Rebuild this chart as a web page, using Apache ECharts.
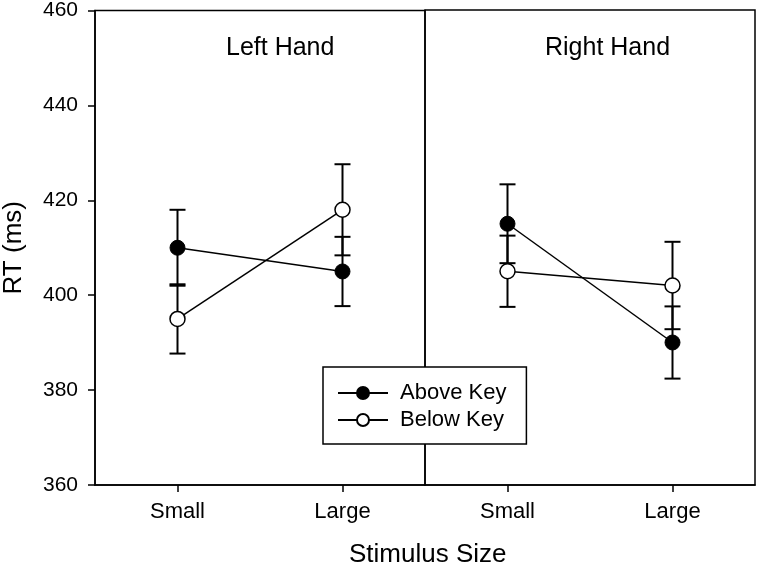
<!DOCTYPE html>
<html>
<head>
<meta charset="utf-8">
<script src="https://cdn.jsdelivr.net/npm/echarts@6/dist/echarts.min.js"></script>
<style>
  html, body { margin: 0; padding: 0; background: #fff; }
  #chart { width: 758px; height: 570px; }
</style>
</head>
<body>
<div id="chart"></div>
<script>
// data
const sizes = ['Small', 'Large'];
const yTicks = [360, 460, 20]; // min, max, step

const leftAbove = [410, 405];
const leftAboveErr = [8, 7.3];
const leftBelow = [395, 418];
const leftBelowErr = [7.3, 9.6];

const rightAbove = [415, 390];
const rightAboveErr = [8.3, 7.6];
const rightBelow = [405, 402];
const rightBelowErr = [7.5, 9.2];

const FONT = '"Liberation Sans", Arial, sans-serif';

// error bar drawn as custom series (vertical line + caps)
function errorBars(values, errs, gridIdx) {
    const data = values.map((v, i) => [i, v - errs[i], v + errs[i]]);
    return {
        type: 'custom',
        xAxisIndex: gridIdx,
        yAxisIndex: gridIdx,
        z: 1,
        silent: true,
        renderItem: function (params, api) {
            const lo = api.coord([api.value(0), api.value(1)]);
            const hi = api.coord([api.value(0), api.value(2)]);
            const half = 8;
            const style = { stroke: '#000', lineWidth: 2 };
            return {
                type: 'group',
                children: [
                    { type: 'line', shape: { x1: lo[0], y1: lo[1], x2: hi[0], y2: hi[1] }, style: style },
                    { type: 'line', shape: { x1: lo[0] - half, y1: lo[1], x2: lo[0] + half, y2: lo[1] }, style: style },
                    { type: 'line', shape: { x1: hi[0] - half, y1: hi[1], x2: hi[0] + half, y2: hi[1] }, style: style }
                ]
            };
        },
        encode: { x: 0, y: [1, 2] },
        data: data
    };
}

function lineSeries(name, values, gridIdx, filled) {
    return {
        name: name,
        type: 'line',
        xAxisIndex: gridIdx,
        yAxisIndex: gridIdx,
        z: 3,
        data: values,
        symbol: 'circle',
        symbolSize: 15,
        showSymbol: true,
        lineStyle: { color: '#000', width: 1.5 },
        itemStyle: filled
            ? { color: '#000', borderColor: '#000', borderWidth: 1 }
            : { color: '#fff', borderColor: '#000', borderWidth: 1.5 },
        emphasis: { disabled: true }
    };
}

function xAxisFor(gridIdx) {
    return {
        type: 'category',
        gridIndex: gridIdx,
        data: sizes,
        boundaryGap: true,
        axisLine: { show: true, lineStyle: { color: '#000', width: 1.5 } },
        axisTick: { show: true, alignWithLabel: true, length: 7, lineStyle: { color: '#000', width: 1.5 } },
        axisLabel: { color: '#000', fontSize: 22, fontFamily: FONT, margin: 16 },
        splitLine: { show: false }
    };
}

const chart = echarts.init(document.getElementById('chart'));

const option = {
    backgroundColor: '#fff',
    animation: false,
    textStyle: { fontFamily: FONT },
    title: [
        { text: 'Left Hand', left: 221, top: 31, textStyle: { fontSize: 25, fontWeight: 'normal', color: '#000', fontFamily: FONT } },
        { text: 'Right Hand', left: 540, top: 31, textStyle: { fontSize: 25, fontWeight: 'normal', color: '#000', fontFamily: FONT } },
        { text: 'Stimulus Size', left: 344, top: 537, textStyle: { fontSize: 26, fontWeight: 'normal', color: '#000', fontFamily: FONT } }
    ],
    legend: {
        orient: 'vertical',
        left: 323,
        top: 367,
        data: ['Above Key', 'Below Key'],
        backgroundColor: '#fff',
        borderColor: '#000',
        borderWidth: 1.5,
        borderRadius: 0,
        padding: [15, 20, 13, 14],
        itemWidth: 50,
        itemHeight: 15,
        itemGap: 5,
        textStyle: { fontSize: 22, color: '#000', fontFamily: FONT, lineHeight: 22, padding: [0, 0, 0, 7] },
        selectedMode: false
    },
    grid: [
        { left: 95, right: 333, top: 10, bottom: 85, show: true, borderColor: '#000', borderWidth: 1.5, backgroundColor: 'transparent' },
        { left: 425, right: 3, top: 10, bottom: 85, show: true, borderColor: '#000', borderWidth: 1.5, backgroundColor: 'transparent' }
    ],
    xAxis: [xAxisFor(0), xAxisFor(1)],
    yAxis: [
        {
            type: 'value',
            gridIndex: 0,
            min: yTicks[0],
            max: yTicks[1],
            interval: yTicks[2],
            name: 'RT (ms)',
            nameLocation: 'middle',
            nameGap: 68,
            nameTextStyle: { fontSize: 26, color: '#000', fontFamily: FONT },
            axisLine: { show: true, lineStyle: { color: '#000', width: 1.5 } },
            axisTick: { show: true, length: 7, lineStyle: { color: '#000', width: 1.5 } },
            axisLabel: { color: '#000', fontSize: 21, fontFamily: FONT, margin: 17 },
            splitLine: { show: false }
        },
        {
            type: 'value',
            gridIndex: 1,
            min: yTicks[0],
            max: yTicks[1],
            interval: yTicks[2],
            axisLine: { show: false },
            axisTick: { show: false },
            axisLabel: { show: false },
            splitLine: { show: false }
        }
    ],
    series: [
        errorBars(leftAbove, leftAboveErr, 0),
        errorBars(leftBelow, leftBelowErr, 0),
        errorBars(rightAbove, rightAboveErr, 1),
        errorBars(rightBelow, rightBelowErr, 1),
        lineSeries('Above Key', leftAbove, 0, true),
        lineSeries('Below Key', leftBelow, 0, false),
        lineSeries('Above Key', rightAbove, 1, true),
        lineSeries('Below Key', rightBelow, 1, false)
    ]
};

chart.setOption(option);
</script>
</body>
</html>
